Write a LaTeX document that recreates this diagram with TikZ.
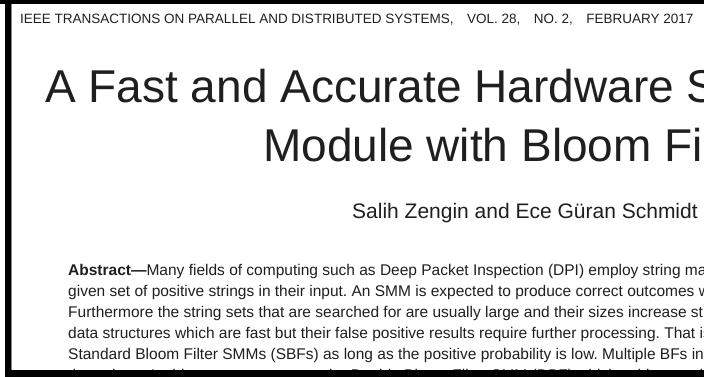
\documentclass[tikz,border=0pt]{standalone}
\usepackage{fontspec}
\setmainfont{Liberation Sans}
\usetikzlibrary{positioning}
\frenchspacing

\newcommand{\pgsize}[1]{\fontsize{#1}{#1}\selectfont}
\newcommand{\absgap}{21.1}

\begin{document}
\begin{tikzpicture}[x=1pt, y=-1pt,
  every node/.style={inner sep=0pt, anchor=base west, text=black!88},
  band/.style={fill=black, draw=none},
  absline/.style={font=\pgsize{15.5}}]
\useasboundingbox (0,0) rectangle (704,377);
\fill[white] (0,0) rectangle (704,377);
\begin{scope}
\clip (0,0) rectangle (704,377);
% header
\node[font=\pgsize{13.5}] (header) at (20,24)
  {IEEE TRANSACTIONS ON PARALLEL AND DISTRIBUTED SYSTEMS,\quad VOL. 28,\quad NO. 2,\quad FEBRUARY 2017};
% title
\node[font=\pgsize{46}] (titleA) at (45,103) {A Fast and Accurate Hardware S};
\node[font=\pgsize{46}] (titleB) at (263,161) {Module with Bloom Fi};
% authors
\node[font=\pgsize{21}] (authors) at (352,218) {Salih Zengin and Ece Güran Schmidt};
% abstract
\node[absline] (abs1) at (68,275)
  {\textbf{Abstract---}Many fields of computing such as Deep Packet Inspection (DPI) employ string ma};
\node[absline] (abs2) at (68,275+\absgap)
  {given set of positive strings in their input. An SMM is expected to produce correct outcomes w};
\node[absline] (abs3) at (68,275+2*\absgap)
  {Furthermore the string sets that are searched for are usually large and their sizes increase st};
\node[absline] (abs4) at (68,275+3*\absgap)
  {data structures which are fast but their false positive results require further processing. That is};
\node[absline] (abs5) at (68,275+4*\absgap)
  {Standard Bloom Filter SMMs (SBFs) as long as the positive probability is low. Multiple BFs in};
\node[absline] (abs6) at (68,275+5*\absgap)
  {throughout. In this paper we propose the Double Bloom Filter SMM (DBF) which achieves a h};
\end{scope}
% frame
\fill[band] (0,0) rectangle (704,4);
\fill[band] (5,0) rectangle (11,377);
\fill[band] (5,369.5) rectangle (704,377);
\draw[black!45, line width=0.8pt] (11.5,4) -- (11.5,369.5);
\end{tikzpicture}
\end{document}
